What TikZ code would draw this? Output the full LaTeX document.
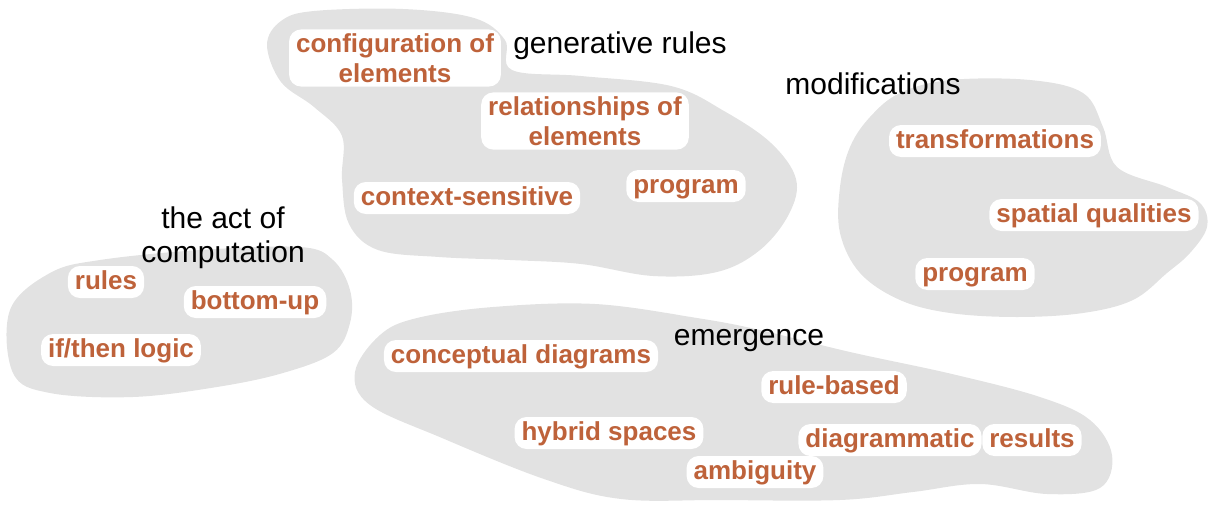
\documentclass[tikz,border=0pt]{standalone}
\usepackage{fontspec}
\setmainfont{Liberation Sans}
\usepackage{tikz}

\definecolor{termorange}{RGB}{190,98,58}
\definecolor{blobgray}{RGB}{226,226,226}

\begin{document}
\begin{tikzpicture}[x=1pt, y=-1pt,
  blob/.style={fill=blobgray, draw=none},
  termtext/.style={text=termorange, fill=white, rounded corners=12pt,
    font=\fontsize{26}{30}\selectfont\bfseries, align=center,
    inner xsep=7pt, inner ysep=4pt},
  term/.style={termtext, text height=19pt, text depth=5pt},
  headtext/.style={text=black, font=\fontsize{30}{34}\selectfont, align=center,
    inner sep=0pt},
  head/.style={headtext, text height=22pt, text depth=6pt}]
\useasboundingbox (0,0) rectangle (1209,506);

% the four clusters
\fill[blob] plot[smooth cycle, tension=0.6] coordinates {
  (267,45) (281,21) (314,11) (403,9) (474,18) (505,40) (512,70)
  (581,76) (671,86) (724,111) (771,143) (796,179) (789,214) (760,250)
  (717,272) (653,276) (581,264) (510,260) (439,257) (378,250) (349,224)
  (342,179) (342,136) (314,107) (281,82)};
\fill[blob] plot[smooth cycle, tension=0.6] coordinates {
  (10,310) (50,273) (100,260) (200,250) (300,247) (333,260) (350,290)
  (350,323) (333,353) (283,373) (217,387) (133,397) (50,393) (13,373)};
\fill[blob] plot[smooth cycle, tension=0.6] coordinates {
  (870,117) (900,93) (950,80) (1030,80) (1083,93) (1103,127) (1117,167)
  (1167,187) (1200,203) (1207,227) (1190,253) (1167,273) (1133,300)
  (1083,313) (1017,317) (950,313) (900,300) (860,273) (840,233)
  (840,187) (850,147)};
\fill[blob] plot[smooth cycle, tension=0.6] coordinates {
  (355,372) (380,335) (417,318) (493,307) (595,304) (697,318) (760,330)
  (850,352) (952,374) (1040,397) (1090,420) (1112,455) (1100,488)
  (1047,494) (980,484) (913,492) (840,500) (720,500) (621,499)
  (544,479) (442,438) (370,405)};

% generative rules
\node[head] (gen) at (620,45) {generative rules};
\node[termtext] (cfg) at (395,58) {configuration of\\elements};
\node[termtext] (rel) at (585,121) {relationships of\\elements};
\node[term] (ctx) at (467,198) {context-sensitive};
\node[term] (prgA) at (686,186) {program};

% modifications
\node[head] (mod) at (873,86) {modifications};
\node[term] (trf) at (995,141) {transformations};
\node[term] (spq) at (1094,215) {spatial qualities};
\node[term] (prgB) at (975,274) {program};

% the act of computation
\node[headtext] (act) at (223,238) {the act of\\computation};
\node[term] (rul) at (106,282) {rules};
\node[term] (btm) at (255,302) {bottom-up};
\node[term] (ift) at (121,350) {if/then logic};

% emergence
\node[head] (emg) at (749,337) {emergence};
\node[term] (cpt) at (521,356) {conceptual diagrams};
\node[term] (rbs) at (834,387) {rule-based};
\node[term] (hyb) at (609,433) {hybrid spaces};
\node[term] (dgm) at (890,440) {diagrammatic};
\node[term] (res) at (1032,440) {results};
\node[term] (amb) at (755,472) {ambiguity};
\end{tikzpicture}
\end{document}
